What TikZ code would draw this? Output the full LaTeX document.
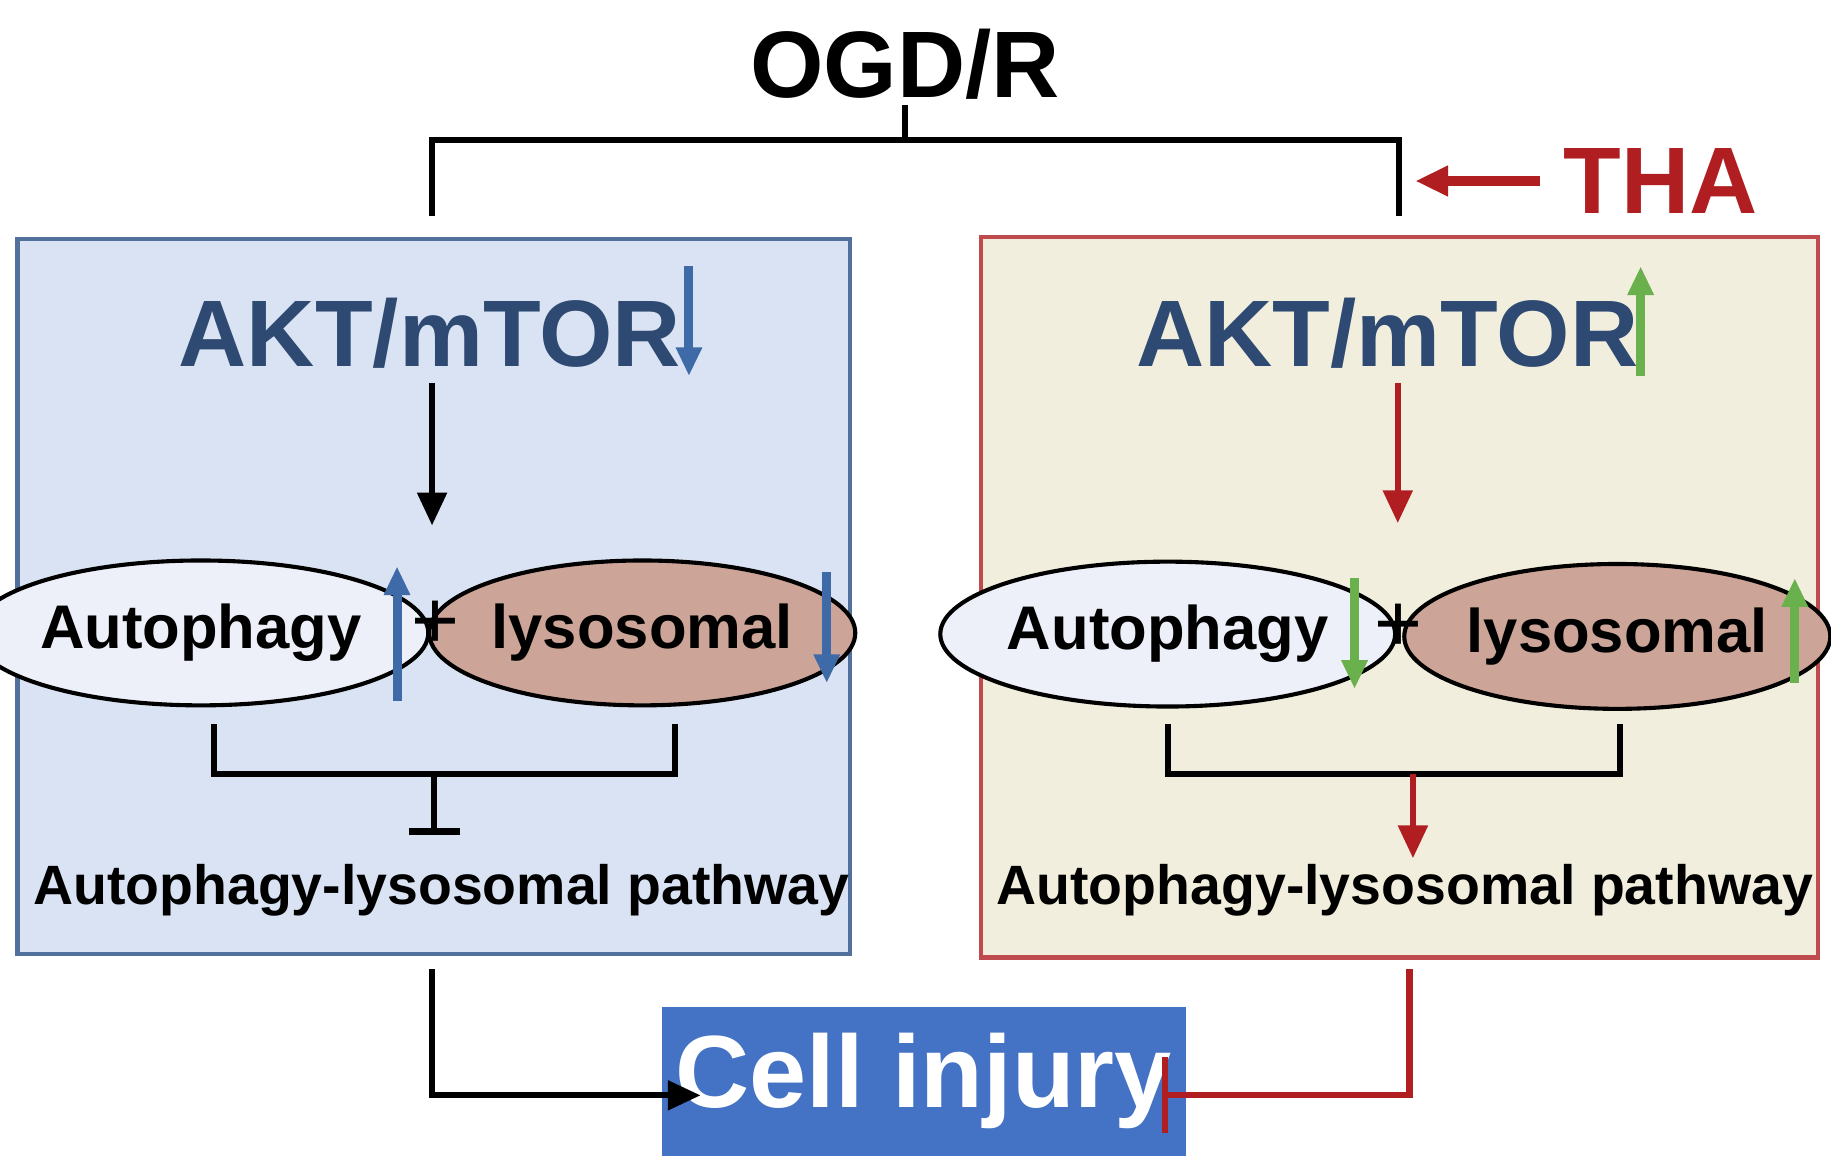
\documentclass[tikz,border=0pt]{standalone}
\usepackage{fontspec}
\setmainfont{Liberation Sans}
\usetikzlibrary{arrows.meta,shapes.geometric}
\definecolor{boxblue}{HTML}{DAE3F3}
\definecolor{boxbeige}{HTML}{F2EEDD}
\definecolor{darkred}{HTML}{B01E22}
\definecolor{aktblue}{HTML}{2E4A72}
\definecolor{arrblue}{HTML}{3E6AA8}
\definecolor{arrgreen}{HTML}{6AB04C}
\definecolor{lysofill}{HTML}{CDA598}
\definecolor{autofill}{HTML}{EDF0F9}
\definecolor{injury}{HTML}{4472C4}
\tikzset{
  line/.style={line width=1.5pt},
  tip/.style={-{Triangle[length=8pt,width=7pt]}},
  ell/.style={draw, ellipse, line width=1pt, minimum width=2.9cm, minimum height=1.24cm, inner sep=0pt, font=\fontsize{15}{17}\selectfont\bfseries},
  big/.style={font=\fontsize{23}{26}\selectfont\bfseries},
  pathtext/.style={font=\fontsize{13.5}{16}\selectfont\bfseries},
  updown/.style={line width=2.2pt, -{Triangle[length=7pt,width=6pt]}}
}
\begin{document}
\begin{tikzpicture}[x=0.01cm,y=-0.01cm]
\useasboundingbox (0,0) rectangle (1568,1002);

% Top stimulus
\node[big] (ogd) at (775,55) {OGD/R};
\draw[line] (775,90) -- (775,120);
\draw[line] (370,185) -- (370,120) -- (1198,120) -- (1198,185);
\node[big, text=darkred] (tha) at (1422,155) {THA};
\coordinate (thaend) at (1212,155);
\draw[line, darkred, tip, line width=2.5pt] (tha.west) ++(-8,0) -- (thaend);

% Boxes
\draw[fill=boxblue, draw=arrblue!70!gray, line width=1pt] (15,205) rectangle (728,817);
\draw[fill=boxbeige, draw=darkred!80, line width=1pt] (840,203) rectangle (1557,820);

% Left pathway
\node[big, text=aktblue] (aktL) at (368,285) {AKT/mTOR};
\draw[updown, arrblue] (590,228) -- (590,322);
\node[ell, fill=autofill] (autoL) at (172,542) {Autophagy};
\node[ell, fill=lysofill] (lysoL) at (550,542) {lysosomal};
\draw[line, tip] (370,328) -- (370,450);
\draw[updown, arrblue] (340,600) -- (340,485);
\node[font=\fontsize{20}{22}\selectfont] (plusL) at (373,535) {+};
\draw[updown, arrblue] (708,490) -- (708,585);
\draw[line] (183,620) -- (183,663) -- (578,663) -- (578,620);
\draw[line] (372,663) -- (372,712);
\draw[line] (350,712) -- (394,712);
\node[pathtext] (pathL) at (378,762) {Autophagy-lysosomal pathway};

% Right pathway
\node[big, text=aktblue] (aktR) at (1188,285) {AKT/mTOR};
\draw[updown, arrgreen] (1405,322) -- (1405,228);
\node[ell, fill=autofill] (autoR) at (1000,543) {Autophagy};
\node[ell, fill=lysofill] (lysoR) at (1385,545) {lysosomal};
\draw[line, tip, darkred] (1197,328) -- (1197,448);
\draw[updown, arrgreen] (1160,495) -- (1160,590);
\node[font=\fontsize{20}{22}\selectfont] (plusR) at (1198,538) {+};
\draw[updown, arrgreen] (1537,585) -- (1537,495);
\draw[line] (1000,620) -- (1000,663) -- (1387,663) -- (1387,620);
\draw[line, tip, darkred] (1210,663) -- (1210,735);
\node[pathtext] (pathR) at (1203,762) {Autophagy-lysosomal pathway};

% Outcome
\node[fill=injury, text=white, minimum width=3.53cm, minimum height=1.28cm, font=\fontsize{25}{28}\selectfont\bfseries] (cell) at (791,926) {Cell injury};
\draw[line, tip] (370,830) -- (370,938) -- (600,938);
\draw[line, darkred] (1207,830) -- (1207,938) -- (998,938);
\draw[line, darkred] (998,905) -- (998,970);
\end{tikzpicture}
\end{document}
